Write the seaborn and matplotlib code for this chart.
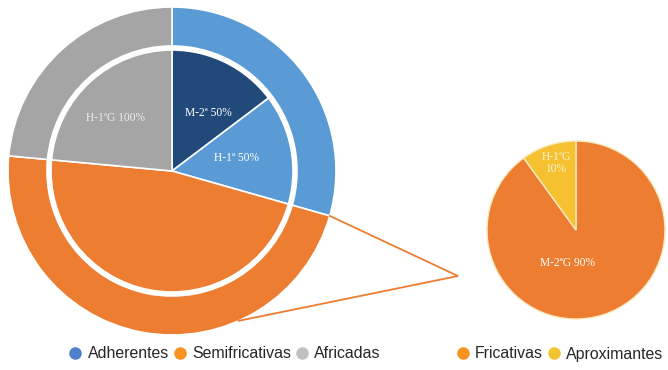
import numpy as np
import matplotlib
matplotlib.use("Agg")
import matplotlib.pyplot as plt
import seaborn as sns
from matplotlib.lines import Line2D

# Data
outer_labels = ["Adherentes", "Semifricativas", "Africadas"]
outer_values = [5, 8, 4]
inner_labels = ["M-2ª 50%", "H-1ª 50%", "", "H-1ªG 100%"]
inner_values = [2.5, 2.5, 8, 4]
zoom_labels = ["Fricativas", "Aproximantes"]
zoom_values = [90, 10]
zoom_texts = ["M-2ªG 90%", "H-1ªG\n10%"]

sns.set_theme(style="white")
plt.rcParams['font.family'] = ['Liberation Sans', 'DejaVu Sans']

blue, orange, gray = "#5B9BD5", "#ED7D31", "#A5A5A5"
dark_blue, yellow = "#21497A", "#F6C131"
legend_cols = ["#4F7FCB", "#F7931E", "#C0C0C0", "#F7931E", "#F4C430"]

W, H = 668, 370
fig = plt.figure(figsize=(W / 100, H / 100), dpi=100)
ax = fig.add_axes([0, 0, 1, 1])

c1 = (172, H - 171)
r_out, ring_w, r_in = 164, 39, 121
c2 = (576, H - 230)
r2 = 89

label_font = dict(color="white", fontsize=8.3, family="Liberation Serif",
                  ha="center", va="center")

# outer ring
ow, _ = ax.pie(outer_values, colors=[blue, orange, gray], startangle=90,
               counterclock=False, center=c1, radius=r_out,
               wedgeprops=dict(width=ring_w, edgecolor="white", linewidth=1.2))
# inner pie
iw, itx = ax.pie(inner_values, colors=[dark_blue, blue, orange, gray],
                 startangle=90, counterclock=False, center=c1, radius=r_in,
                 labels=inner_labels, labeldistance=0.55,
                 wedgeprops=dict(edgecolor="white", linewidth=1.2),
                 textprops=label_font)
itx[0].set_position((208, H - 113))
itx[1].set_position((237, H - 158))
itx[3].set_position((115, H - 118))
itx[3].set_color("#EDEDED")
for t in itx:
    t.set_ha("center")

# zoom pie
zw, ztx = ax.pie(zoom_values, colors=[orange, yellow], startangle=90,
                 counterclock=False, center=c2, radius=r2,
                 labels=zoom_texts, labeldistance=0.45,
                 wedgeprops=dict(edgecolor="#FBE9C0", linewidth=1.0),
                 textprops=dict(label_font, linespacing=1.1))
ztx[0].set_position((568, H - 263))
ztx[1].set_position((556, H - 163))
ztx[1].set_color("#FFF4D0")
for t in ztx:
    t.set_ha("center")

# connector lines from the Semifricativas wedge to the zoom pie
vertex = (458, H - 276)
a1 = np.deg2rad(ow[1].theta2)
a2 = np.deg2rad(-66)
p1 = (c1[0] + r_out * np.cos(a1), c1[1] + r_out * np.sin(a1))
p2 = (c1[0] + r_out * np.cos(a2), c1[1] + r_out * np.sin(a2))
ax.plot([p1[0], vertex[0], p2[0]], [p1[1], vertex[1], p2[1]],
        color=orange, lw=1.3, solid_joinstyle="miter")

ax.set_xlim(0, W)
ax.set_ylim(0, H)
ax.set_aspect("equal")
ax.axis("off")

def handles(names, cols):
    return [Line2D([], [], marker="o", ls="", markersize=8,
                   markerfacecolor=c, markeredgecolor=c, label=n)
            for n, c in zip(names, cols)]

leg_kw = dict(loc="center", ncol=3, frameon=False, fontsize=11.4,
              handletextpad=0.39, columnspacing=0.27, borderpad=0,
              handlelength=0.8)
fig.legend(handles=handles(outer_labels, legend_cols[:3]),
           bbox_to_anchor=(225 / W, 1 - 354 / H), **leg_kw)
leg_kw["ncol"] = 2
fig.legend(handles=handles(zoom_labels, legend_cols[3:]),
           bbox_to_anchor=(560 / W, 1 - 354 / H), **leg_kw)

fig.savefig("out.png", dpi=100)
